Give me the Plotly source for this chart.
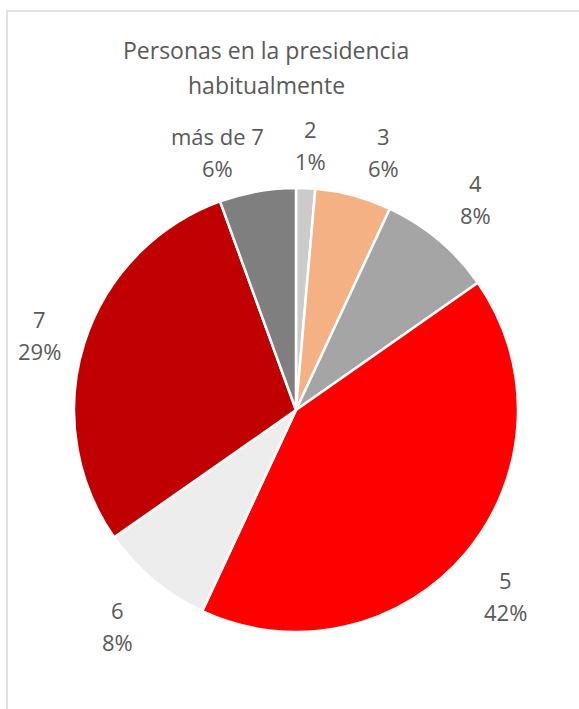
import numpy as np
import plotly.graph_objects as go

labels = ['2', '3', '4', '5', '6', '7', 'más de 7']
counts = [1, 4, 6, 30, 6, 21, 4]
colors = ['#cbcbcb', '#f4b183', '#a5a5a5', '#ff0000', '#ededed', '#c00000', '#7f7f7f']

W, H = 579, 709
cx, cy, R = 296, 410, 222   # centro y radio del pie en px
gap = 16                    # media distancia entre las dos líneas de cada etiqueta
# colocación de etiquetas tipo "ajuste óptimo" de Excel: radio (px) y giro (grados)
lab_r = [265, 273, 277, 280, 280, 267, 270]
lab_turn = [0.7, 3.8, 0.3, 1.7, -0.5, -1.2, -7]

fig = go.Figure()
fig.add_trace(go.Pie(
    labels=labels,
    values=counts,
    sort=False,
    direction='clockwise',
    rotation=0,
    marker=dict(colors=colors, line=dict(color='white', width=2.5)),
    textinfo='none',
    hoverinfo='label+percent',
    showlegend=False,
    domain=dict(x=[(cx - R) / W, (cx + R) / W], y=[1 - (cy + R) / H, 1 - (cy - R) / H]),
))


def px2paper(x, y):
    return x / W, 1 - y / H


# etiquetas fuera del pie, en el ángulo medio de cada porción
total = sum(counts)
cum = np.cumsum([0] + counts)
annotations = []
for i, lab in enumerate(labels):
    mid = (cum[i] + counts[i] / 2) / total * 2 * np.pi + np.radians(lab_turn[i])
    lx = cx + lab_r[i] * np.sin(mid)
    ly = cy - lab_r[i] * np.cos(mid)
    pct = round(counts[i] / total * 100)
    for txt, dy in [(lab, -gap), (f'{pct}%', gap)]:
        x, y = px2paper(lx, ly + dy)
        annotations.append(dict(
            x=x, y=y, xref='paper', yref='paper',
            text=txt, showarrow=False,
            font=dict(size=22, color='#595959'),
            xanchor='center', yanchor='middle',
        ))

for txt, ty in [('Personas en la presidencia', 50), ('habitualmente', 85)]:
    x, y = px2paper(266, ty)
    annotations.append(dict(
        x=x, y=y, xref='paper', yref='paper',
        text=txt, showarrow=False,
        font=dict(size=23, color='#595959'),
        xanchor='center', yanchor='middle',
    ))

fig.update_layout(
    width=W, height=H,
    margin=dict(l=0, r=0, t=0, b=0),
    paper_bgcolor='white',
    font=dict(family='Open Sans', color='#595959'),
    annotations=annotations,
    shapes=[dict(type='rect', xref='paper', yref='paper',
                 x0=7 / W, x1=1.2, y0=-0.2, y1=1 - 11 / H,
                 line=dict(color='#d9d9d9', width=1.5))],
)

fig.write_html('out.html', config={'displayModeBar': False},
               post_script="document.body.style.margin='0px';")
